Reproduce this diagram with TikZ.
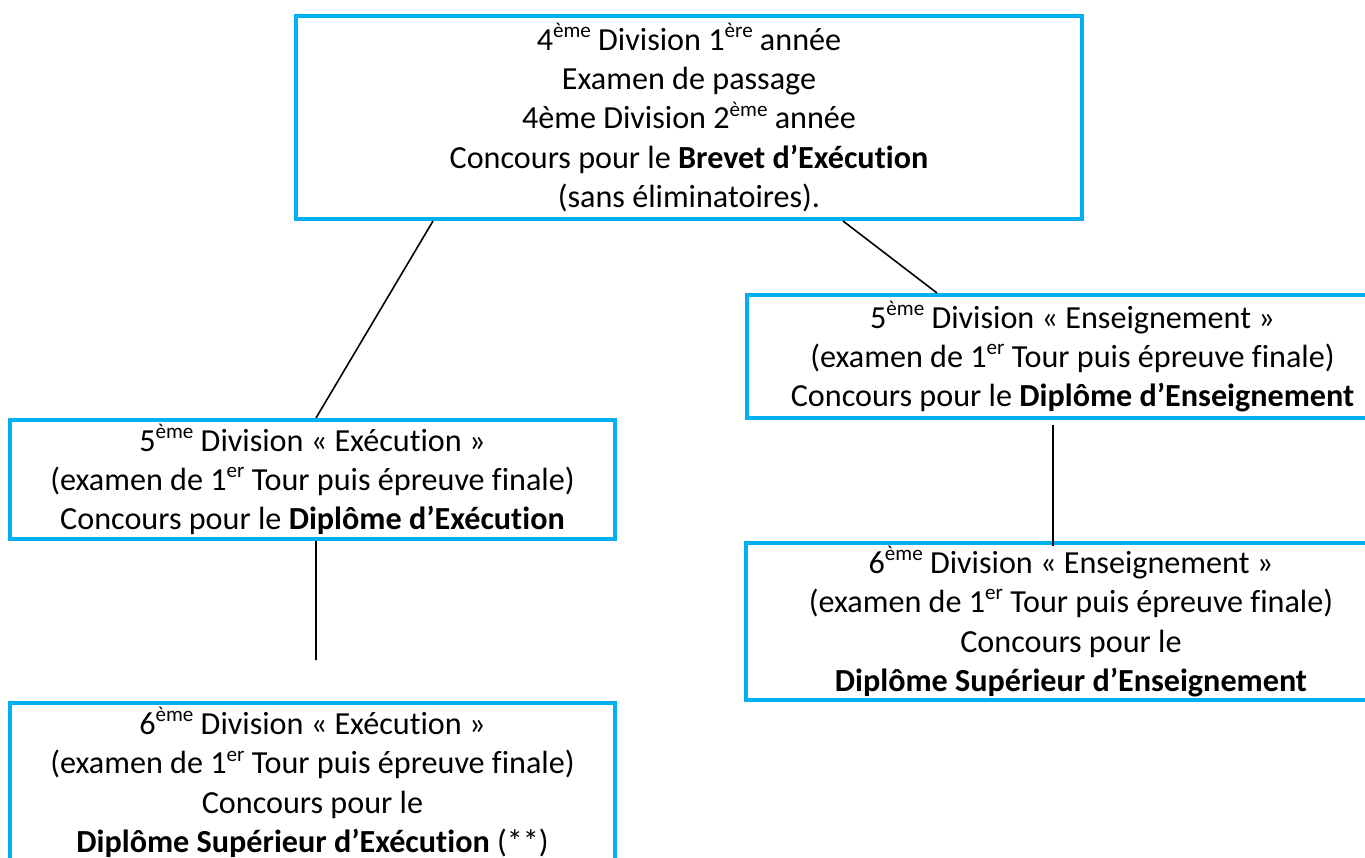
\documentclass[tikz,border=0pt]{standalone}
\usepackage{fontspec}
\setmainfont[Ligatures=NoCommon]{Carlito}
\definecolor{boxblue}{HTML}{00B0F0}
\tikzset{
  divbox/.style={draw=boxblue, line width=0.04cm, rectangle, inner sep=0pt, align=center,
    font=\fontsize{9.15pt}{11.2pt}\selectfont},
  link/.style={draw=black, line width=0.45pt}
}
\newcommand{\supx}[1]{\raisebox{0.4em}{\fontsize{6pt}{6pt}\selectfont #1}}
\begin{document}
\begin{tikzpicture}
\useasboundingbox (0,0) rectangle (13.65,-8.57);
\clip (0,0) rectangle (13.65,-8.57);
\fill[white] (0,0) rectangle (13.65,-8.57);

\node[divbox, minimum width=7.86cm, minimum height=2.03cm] (top) at (6.89,-1.175)
  {4\supx{ème} Division 1\supx{ère} année\\
   Examen de passage\\
   4ème Division 2\supx{ème} année\\
   Concours pour le \textbf{Brevet d’Exécution}\\
   (sans éliminatoires).};

\node[divbox, minimum width=6.05cm, minimum height=1.19cm] (lb1) at (3.125,-4.795)
  {5\supx{ème} Division « Exécution »\\
   (examen de 1\supx{er} Tour puis épreuve finale)\\
   Concours pour le \textbf{Diplôme d’Exécution}};

\node[divbox, minimum width=6.51cm, minimum height=1.23cm] (rb1) at (10.725,-3.565)
  {5\supx{ème} Division « Enseignement »\\
   (examen de 1\supx{er} Tour puis épreuve finale)\\
   Concours pour le \textbf{Diplôme d’Enseignement}};

\node[divbox, minimum width=6.5cm, minimum height=1.57cm] (rb2) at (10.71,-6.215)
  {6\supx{ème} Division « Enseignement »\\
   (examen de 1\supx{er} Tour puis épreuve finale)\\
   Concours pour le\\
   \textbf{Diplôme Supérieur d’Enseignement}};

\node[divbox, minimum width=6.05cm, minimum height=1.59cm] (lb2) at (3.125,-7.825)
  {6\supx{ème} Division « Exécution »\\
   (examen de 1\supx{er} Tour puis épreuve finale)\\
   Concours pour le\\
   \textbf{Diplôme Supérieur d’Exécution} (**)};

\coordinate (lend) at (3.16,-6.60);

\draw[link] ([xshift=-2.56cm]top.south) -- ([xshift=0.035cm]lb1.north);
\draw[link] ([xshift=1.54cm]top.south) -- ([xshift=-1.355cm]rb1.north);
\draw[link] ([xshift=-1.95mm,yshift=-0.5mm]rb1.south) -- ([xshift=-1.95mm,yshift=-0.5mm]rb1.south |- rb2.north);
\draw[link] ([xshift=0.035cm]lb1.south) -- (lend);
\end{tikzpicture}
\end{document}
